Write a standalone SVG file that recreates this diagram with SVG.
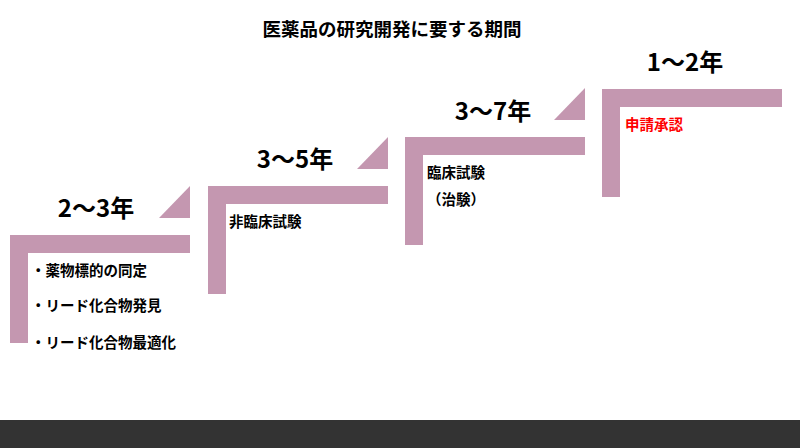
<svg xmlns="http://www.w3.org/2000/svg" width="800" height="448" viewBox="0 0 800 448">
<style>
.s{fill:#C497B0}
text{font-family:"Noto Sans CJK JP","Liberation Sans",sans-serif;font-weight:bold;fill:#000}
.y{font-size:24px;text-anchor:middle}
.t{font-size:14.5px}
</style>
<defs>
<path id="bar" class="s" d="M0 0H180V18H18V108H0Z"/>
<path id="tri" class="s" d="M149 -17H180V-49Z"/>
</defs>
<rect width="800" height="448" fill="#fff"/>
<text x="392" y="36" font-size="18.5" text-anchor="middle">医薬品の研究開発に要する期間</text>
<g id="step1"><use href="#bar" x="10" y="235"/><use href="#tri" x="10" y="235"/>
<text class="y" x="96" y="217">2～3年</text>
<text class="t" x="31" y="276">・薬物標的の同定</text>
<text class="t" x="31" y="311">・リード化合物発見</text>
<text class="t" x="31" y="348">・リード化合物最適化</text></g>
<g id="step2"><use href="#bar" x="208" y="186"/><use href="#tri" x="208" y="186"/>
<text class="y" x="295" y="168">3～5年</text>
<text class="t" x="229" y="227">非臨床試験</text></g>
<g id="step3"><use href="#bar" x="405" y="137"/><use href="#tri" x="405" y="137"/>
<text class="y" x="493" y="120">3～7年</text>
<text class="t" x="427" y="178">臨床試験</text>
<text class="t" x="427" y="205">（治験）</text></g>
<g id="step4"><use href="#bar" x="602" y="89"/>
<text class="y" x="685" y="71">1～2年</text>
<text class="t" x="625" y="130" style="fill:#FF0000">申請承認</text></g>
<g id="connectors"/>
<rect x="0" y="420" width="800" height="28" fill="#333"/>
</svg>
